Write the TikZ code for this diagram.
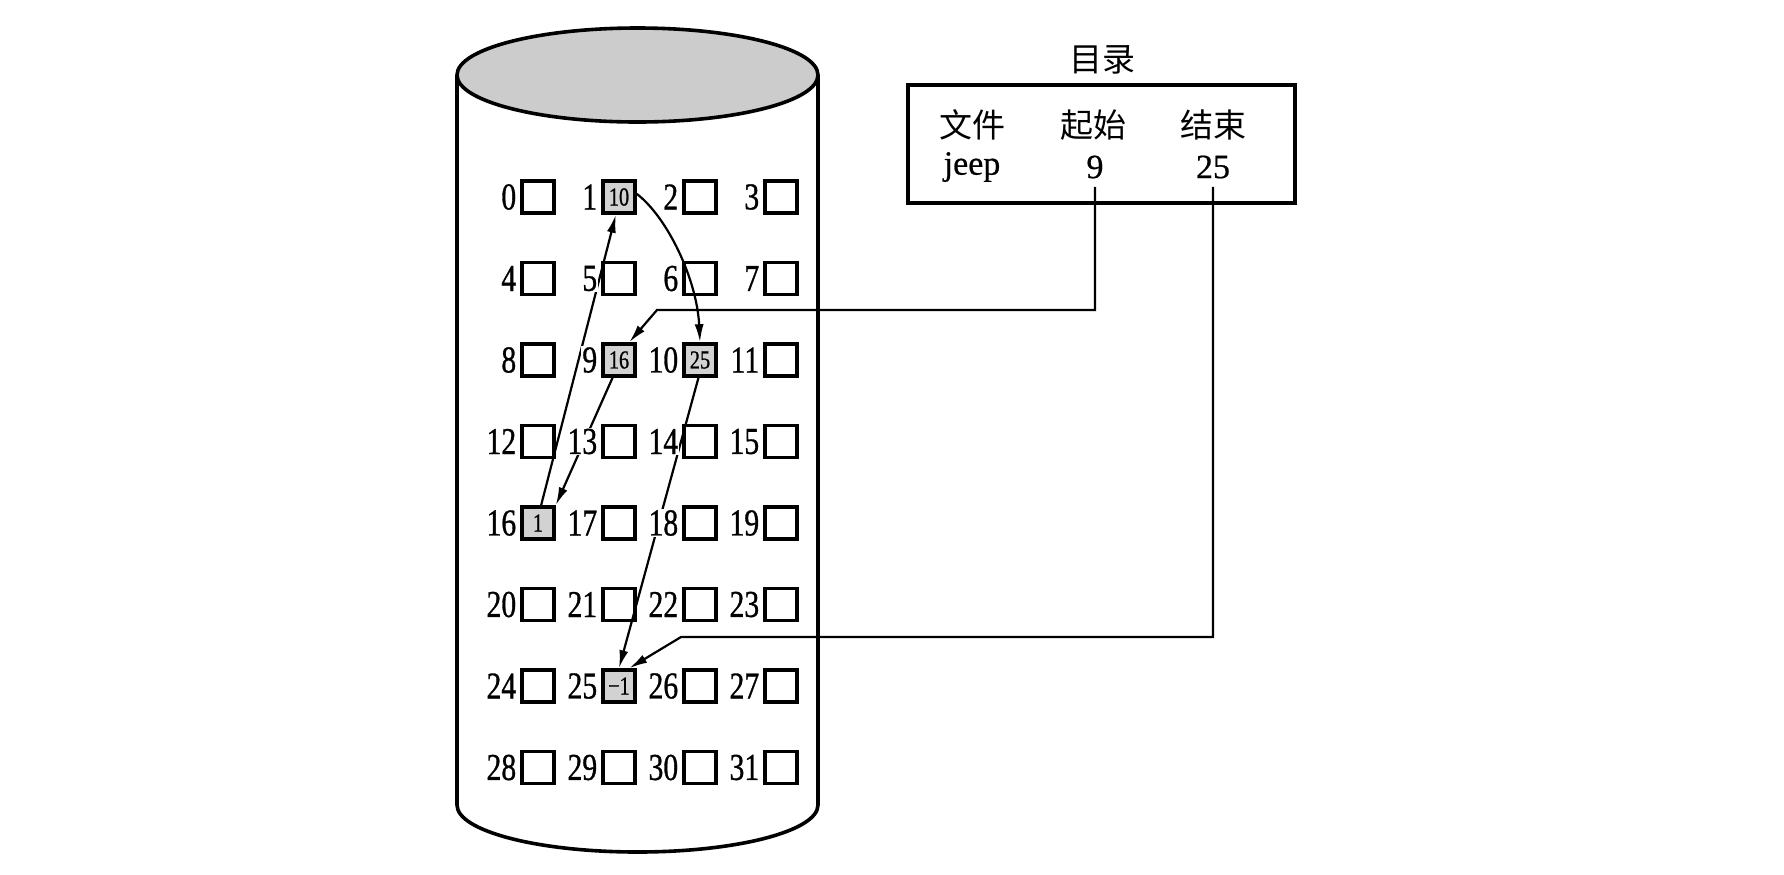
\documentclass[tikz,border=0pt]{standalone}
\usepackage{fontspec}
\setmainfont{Liberation Serif}
\newfontfamily\numfont[FakeStretch=0.78,FakeBold=0.8]{Liberation Serif}
\newfontfamily\tabfont[FakeBold=0.6]{Liberation Serif}
\newfontfamily\cjk{Noto Sans CJK SC}
\usetikzlibrary{arrows.meta}
\begin{document}
\begin{tikzpicture}[x=0.5pt,y=-0.5pt,
  blk/.style={draw,line width=1.8pt,minimum size=16pt,inner sep=0pt,fill=white,font=\fontsize{13}{13}\numfont},
  used/.style={blk,fill=gray!35},
  lbl/.style={inner sep=0.6pt,fill=white,font=\fontsize{19}{19}\numfont},
  link/.style={line width=1.1pt,-{Latex[length=9pt,width=4.5pt]}},
  tbl/.style={font=\fontsize{17}{17}\tabfont,inner sep=1pt},
  ctbl/.style={font=\fontsize{16.5}{16.5}\cjk,inner sep=1pt},
  cyl/.style={line width=1.8pt}]
\useasboundingbox (0,0) rectangle (1784,874);
% cylinder
\draw[cyl] (457,75) -- (457,805);
\draw[cyl] (818,75) -- (818,805);
\begin{scope}
  \clip (440,805) rectangle (840,872);
  \draw[cyl] (637.5,805) ellipse [x radius=180.5,y radius=47];
\end{scope}
\draw[cyl,fill=gray!40] (637.5,75) ellipse [x radius=180.5,y radius=47];
% blocks
\foreach \i/\t/\s in {0//blk,1/10/used,2//blk,3//blk,4//blk,5//blk,6//blk,7//blk,
  8//blk,9/16/used,10/25/used,11//blk,12//blk,13//blk,14//blk,15//blk,
  16/1/used,17//blk,18//blk,19//blk,20//blk,21//blk,22//blk,23//blk,
  24//blk,25/−1/used,26//blk,27//blk,28//blk,29//blk,30//blk,31//blk}{
  \pgfmathtruncatemacro\c{mod(\i,4)}
  \pgfmathtruncatemacro\r{\i/4}
  \node[\s] (s\i) at ({538+81*\c},{197+81.5*\r}) {\t};
}
% chain
\draw[link] (s9.250) -- (s16.45);
\draw[link] (s16.80) -- (s1.260);
\draw[link] (s1.10) .. controls (668,218) and (697,280) .. (s10.north);
\draw[link] (s10.265) -- (s25.north);
% labels
\foreach \i in {0,...,31}{
  \node[lbl,anchor=east] (l\i) at ([xshift=-1.2pt]s\i.west) {\i};
}
% directory
\node[ctbl] (title) at (1102,60) {目录};
\node[draw,line width=1.8pt,minimum width=193.5pt,minimum height=59pt,inner sep=0pt] (dir) at (1101.5,144) {};
\node[ctbl] (h1) at (972,125) {文件};
\node[ctbl] (h2) at (1093,125) {起始};
\node[ctbl] (h3) at (1213,125) {结束};
\node[tbl] (jeep) at (972,167) {jeep};
\node[tbl] (t9) at (1095,167) {9};
\node[tbl] (t25) at (1213,167) {25};
\coordinate (b9) at (657,310);
\coordinate (b25) at (681,637);
\draw[link] ([yshift=-3pt]t9.south) |- (b9) -- (s9.60);
\draw[link] ([yshift=-3pt]t25.south) |- (b25) -- (s25.60);
\end{tikzpicture}
\end{document}
